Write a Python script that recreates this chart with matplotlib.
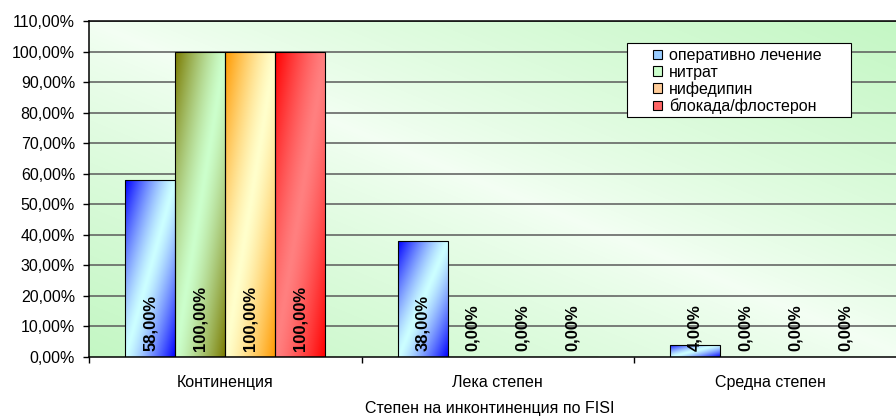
import numpy as np
import matplotlib
matplotlib.use('Agg')
import matplotlib.pyplot as plt
from matplotlib.patches import Patch, Rectangle
from matplotlib.colors import to_rgb

plt.rcParams['font.family'] = ['Liberation Sans', 'DejaVu Sans']

categories = ['Континенция', 'Лека степен', 'Средна степен']
series = ['оперативно лечение', 'нитрат', 'нифедипин', 'блокада/флостерон']
surgery = [58.0, 38.0, 4.0]
nitrate = [100.0, 0.0, 0.0]
nifedipine = [100.0, 0.0, 0.0]
blockade = [100.0, 0.0, 0.0]
values = [surgery, nitrate, nifedipine, blockade]
yticks = list(range(0, 111, 10))

# (dark, light) pair for each series gradient
shades = [('#0000ff', '#ccffff'),
          ('#7a7a00', '#ccffcc'),
          ('#ff9900', '#ffffcc'),
          ('#ff0000', '#ff8080')]
legend_cols = ['#99ccff', '#ccffcc', '#ffcc99', '#ff6666']


def pct(v):
    return f'{v:.2f}%'.replace('.', ',')


def bar_gradient(dark, light, nx=40, ny=200):
    u = np.linspace(0, 1, nx)[None, :]
    v = np.linspace(0, 1, ny)[:, None]
    w = np.abs(u + v - 1.0) ** 1.3
    d = np.array(to_rgb(dark))
    l = np.array(to_rgb(light))
    return l + (d - l) * w[..., None]


def back_gradient(nx=300, ny=120):
    u = np.linspace(0, 1, nx)[None, :]
    v = np.linspace(0, 1, ny)[:, None]
    w = np.clip(np.abs(u - v), 0, 1) ** 0.8
    g = np.array(to_rgb('#c4f7c4'))
    l = np.array(to_rgb('#f4fff4'))
    return l + (g - l) * w[..., None]


W, H = 896, 416
fig = plt.figure(figsize=(W / 100, H / 100), dpi=100)
left, right, top, bottom = 89, 906.5, 21, 357
ax = fig.add_axes([left / W, (H - bottom) / H, (right - left) / W, (bottom - top) / H])

ax.imshow(back_gradient(), extent=(0, 1, 0, 1), transform=ax.transAxes,
          aspect='auto', zorder=0, interpolation='bilinear')
ax.set_xlim(-0.5, len(categories) - 0.5)
ax.set_ylim(0, 110)

for y in yticks[1:]:
    ax.axhline(y, color='#5a5a5a', lw=1.1, zorder=1)

width = 0.1835
x = np.arange(len(categories))
for i, vals in enumerate(values):
    pos = x + (i - 1.5) * width
    bars = ax.bar(pos, vals, width, facecolor='none', edgecolor='black',
                  linewidth=0.8, zorder=3)
    grad = bar_gradient(*shades[i])
    for b, p, v in zip(bars, pos, vals):
        if v > 0:
            im = ax.imshow(grad, extent=(p - width / 2, p + width / 2, 0, v),
                           aspect='auto', zorder=2, interpolation='bilinear')
            im.set_clip_path(b)
        ax.annotate(pct(v), (p, 0), xytext=(0, 4), textcoords='offset points',
                    rotation=90, ha='center', va='bottom', fontsize=12,
                    fontweight='bold', zorder=4)

ax.set_yticks(yticks)
ax.set_yticklabels([pct(v) for v in yticks], fontsize=11.5)
ax.tick_params(axis='y', length=4, width=1, pad=6, direction='out')

ax.set_xticks(np.arange(-0.5, len(categories), 1.0))
ax.set_xticklabels([])
ax.tick_params(axis='x', which='major', length=4, width=1, direction='out')
ax.set_xticks(x, minor=True)
ax.set_xticklabels(categories, minor=True, fontsize=11.5)
ax.tick_params(axis='x', which='minor', length=0, pad=13)

for s in ax.spines.values():
    s.set_color('black')
    s.set_linewidth(1.1)

fig.text(490 / W, 1 - 408 / H, 'Степен на инконтиненция по FISI',
         ha='center', va='center', fontsize=11.5)

# legend box drawn separately so the padding can be uneven
ax.add_patch(Rectangle((627 / W, 1 - 117 / H), (851 - 627) / W, (117 - 43) / H,
                       transform=fig.transFigure, facecolor='white',
                       edgecolor='black', linewidth=0.8, zorder=5, clip_on=False))
handles = [Patch(facecolor=c, edgecolor='black', linewidth=0.8) for c in legend_cols]
leg = ax.legend(handles, series, loc='upper left', bbox_to_anchor=(650 / W, 1 - 45 / H),
                bbox_transform=fig.transFigure, frameon=False, fontsize=11.5,
                handlelength=0.55, handleheight=0.55, handletextpad=0.45,
                labelspacing=0.1, borderpad=0.2, borderaxespad=0)
leg.set_zorder(6)

fig.savefig('out.png', dpi=100)
